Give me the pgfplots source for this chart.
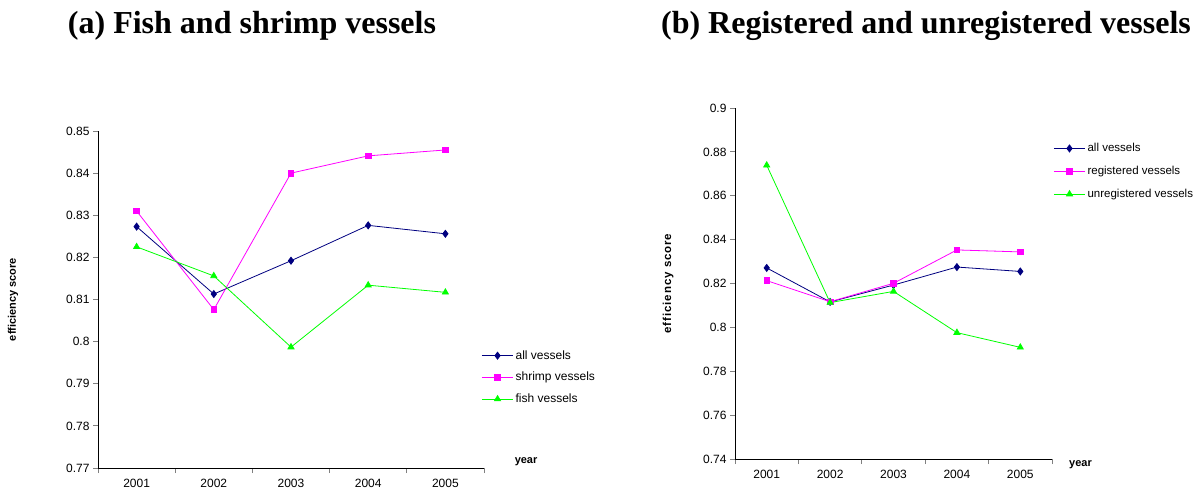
\documentclass[border=0pt]{standalone}
\usepackage{fontspec}
\setmainfont{Liberation Sans}
\newfontfamily\titlefont{Liberation Serif}
\newfontfamily\spacedfont[LetterSpace=8]{Liberation Sans}
\usepackage{pgfplots}
\pgfplotsset{compat=1.18}
\definecolor{navyc}{RGB}{0,0,128}
\definecolor{magc}{RGB}{255,0,255}
\definecolor{grnc}{RGB}{0,255,0}
\pgfplotsset{
  myaxis/.style={
    scale only axis,
    axis lines=left,
    axis line style={-, line width=0.8pt},
    xmin=0.5, xmax=5.5,
    xtick={1,2,3,4,5},
    xticklabels={2001,2002,2003,2004,2005},
    minor xtick={0.5,1.5,2.5,3.5,4.5,5.5},
    major x tick style={draw=none},
    minor x tick style={line width=0.8pt},
    y tick style={line width=0.8pt},
    tick align=outside,
    minor tick length=5pt,
    major tick length=5pt,
    tick label style={font=\fontsize{12}{14}\selectfont},
    /pgf/number format/assume math mode=true,
    xticklabel style={yshift=-3pt},
    legend cell align=left,
    legend style={draw=none, fill=none, font=\fontsize{12}{14}\selectfont, inner sep=0pt},
    legend image code/.code={\draw[mark repeat=2,mark phase=2] plot coordinates {(0cm,0cm) (0.55cm,0cm) (1.1cm,0cm)};},
  },
  sa/.style={color=navyc, line width=0.8pt, mark=diamond*, mark size=3.5pt, mark options={solid, fill=navyc}},
  sb/.style={color=magc, line width=0.8pt, mark=square*, mark size=2.8pt, mark options={solid, fill=magc}},
  sc/.style={color=grnc, line width=0.8pt, mark=triangle*, mark size=3.5pt, mark options={solid, fill=grnc}},
}
\begin{document}
\begin{tikzpicture}
\path[use as bounding box] (0,0) rectangle (1198pt,-492pt);
\node[font=\titlefont\bfseries\fontsize{32}{38}\selectfont] at (252pt,-26pt) {(a) Fish and shrimp vessels};
\node[font=\titlefont\bfseries\fontsize{32}{38}\selectfont] at (926pt,-26pt) {(b) Registered and unregistered vessels};

\begin{axis}[myaxis,
  at={(98pt,-468pt)}, anchor=south west,
  width=386pt, height=337pt,
  ymin=0.77, ymax=0.85,
  ytick={0.77,0.78,0.79,0.8,0.81,0.82,0.83,0.84,0.85},
  yticklabels={0.77,0.78,0.79,0.8,0.81,0.82,0.83,0.84,0.85},
  ylabel={efficiency score},
  ylabel style={at={(axis description cs:-0.22,0.5)}, rotate=0, anchor=center, font=\bfseries\fontsize{11}{13}\selectfont},
  xlabel={year},
  xlabel style={at={(axis description cs:1.109,0.018)}, anchor=center, font=\bfseries\fontsize{11}{13}\selectfont},
  legend style={at={(0.993,0.355)}, anchor=north west, row sep=7.5pt},
]
\addplot[sa] coordinates {(1,0.8273) (2,0.8113) (3,0.8192) (4,0.8276) (5,0.8256)};
\addlegendentry{all vessels}
\addplot[sb] coordinates {(1,0.8310) (2,0.8076) (3,0.8400) (4,0.8441) (5,0.8455)};
\addlegendentry{shrimp vessels}
\addplot[sc] coordinates {(1,0.8225) (2,0.8156) (3,0.7987) (4,0.8134) (5,0.8117)};
\addlegendentry{fish vessels}
\end{axis}

\begin{axis}[myaxis,
  at={(735pt,-459pt)}, anchor=south west,
  width=317pt, height=351pt,
  ymin=0.74, ymax=0.9,
  ytick={0.74,0.76,0.78,0.8,0.82,0.84,0.86,0.88,0.9},
  yticklabels={0.74,0.76,0.78,0.8,0.82,0.84,0.86,0.88,0.9},
  ylabel={efficiency score},
  ylabel style={at={(axis description cs:-0.211,0.5)}, rotate=0, anchor=center, font=\spacedfont\bfseries\fontsize{11.5}{13}\selectfont},
  xlabel={year},
  xlabel style={at={(axis description cs:1.09,-0.017)}, anchor=center, font=\bfseries\fontsize{11}{13}\selectfont},
  legend style={at={(1.004,0.905)}, anchor=north west, row sep=9pt, font=\fontsize{11.5}{13}\selectfont},
]
\addplot[sa] coordinates {(1,0.8271) (2,0.8116) (3,0.8193) (4,0.8275) (5,0.8255)};
\addlegendentry{all vessels}
\addplot[sb] coordinates {(1,0.8213) (2,0.8117) (3,0.8201) (4,0.8353) (5,0.8344)};
\addlegendentry{registered vessels}
\addplot[sc] coordinates {(1,0.8739) (2,0.8113) (3,0.8164) (4,0.7976) (5,0.7909)};
\addlegendentry{unregistered vessels}
\end{axis}
\end{tikzpicture}
\end{document}
